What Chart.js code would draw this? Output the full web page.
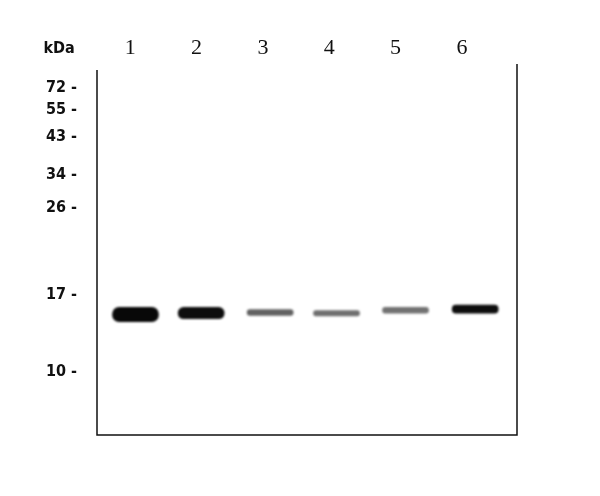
<!DOCTYPE html>
<html lang="en">
<head>
    <meta charset="UTF-8">
    <title>Western blot</title>
    <script src="https://cdn.jsdelivr.net/npm/chart.js"></script>
    <style>
        html, body { margin: 0; padding: 0; background: #fff; }
        .wrap { width: 600px; height: 496px; }
    </style>
</head>
<body>
    <div class="wrap"><canvas id="blot" width="600" height="496"></canvas></div>
    <script>
        // lanes and their label positions along the gel
        const lanes = ['1', '2', '3', '4', '5', '6'];
        const lanePos = [1, 2, 3, 4, 5, 6];
        // where each band actually sits (lane units) and its extent (migration, 0 = top of gel)
        const bandPos = [1.08, 2.07, 3.11, 4.11, 5.15, 6.20];
        const bandTop = [65.4, 65.4, 66.0, 66.3, 65.4, 64.8];
        const bandBottom = [69.3, 68.5, 67.6, 67.7, 67.0, 67.0];
        const bandIntensity = [1.0, 0.98, 0.62, 0.56, 0.55, 0.98];
        // molecular weight marker ladder
        const markerKDa = ['72', '55', '43', '34', '26', '17', '10'];
        const markerPos = [6.0, 11.9, 19.2, 29.5, 38.5, 62.1, 82.9];

        const bandData = bandPos.map((x, i) => ({ x: x, y: [bandTop[i], bandBottom[i]] }));
        const bandColors = bandIntensity.map(v => {
            const g = Math.round(235 * (1 - v) + 8);
            return `rgb(${g},${g},${g})`;
        });

        const markFont = "bold 16px 'Liberation Sans Narrow', 'DejaVu Sans Condensed', sans-serif";

        // frame on left, right and bottom + kDa heading
        const gelFrame = {
            id: 'gelFrame',
            beforeDatasetsDraw(chart) {
                chart.ctx.save();
                chart.ctx.filter = 'blur(1px)';
            },
            afterDatasetsDraw(chart) {
                chart.ctx.restore();
            },
            afterDraw(chart) {
                const { ctx, chartArea } = chart;
                ctx.save();
                ctx.strokeStyle = '#111';
                ctx.lineWidth = 1.5;
                ctx.beginPath();
                ctx.moveTo(chartArea.left, chartArea.top + 4);
                ctx.lineTo(chartArea.left, chartArea.bottom);
                ctx.lineTo(chartArea.right, chartArea.bottom);
                ctx.lineTo(chartArea.right, chartArea.top - 2);
                ctx.stroke();
                ctx.fillStyle = '#111';
                ctx.font = markFont;
                ctx.textAlign = 'center';
                ctx.textBaseline = 'middle';
                ctx.fillText('kDa', 59, 49);
                ctx.restore();
            }
        };

        new Chart(document.getElementById('blot'), {
            type: 'bar',
            data: {
                datasets: [{
                    label: 'band',
                    data: bandData,
                    backgroundColor: bandColors,
                    borderWidth: 0,
                    borderRadius: 7,
                    borderSkipped: false,
                    barThickness: 46
                }]
            },
            options: {
                responsive: false,
                animation: false,
                layout: { padding: { left: 0, top: 0, right: 83, bottom: 61 } },
                plugins: {
                    legend: { display: false },
                    tooltip: { enabled: false }
                },
                scales: {
                    x: {
                        type: 'linear',
                        position: 'top',
                        offset: false,
                        min: 0.5,
                        max: 6.83,
                        grid: { display: false, drawTicks: false, offset: false },
                        border: { display: false },
                        afterBuildTicks: scale => { scale.ticks = lanePos.map(v => ({ value: v })); },
                        afterFit: scale => { scale.height = 66; },
                        ticks: {
                            padding: 5,
                            color: '#111',
                            font: { family: "'Liberation Serif', 'DejaVu Serif', serif", size: 22 },
                            callback: (v, i) => lanes[i]
                        }
                    },
                    y: {
                        type: 'linear',
                        reverse: true,
                        min: 0,
                        max: 100,
                        grid: { display: false, drawTicks: false },
                        border: { display: false },
                        afterBuildTicks: scale => { scale.ticks = markerPos.map(v => ({ value: v })); },
                        afterFit: scale => { scale.width = 97; },
                        ticks: {
                            padding: 20,
                            color: '#111',
                            font: { family: "'Liberation Sans Narrow', 'DejaVu Sans Condensed', sans-serif", size: 16, weight: 'bold' },
                            callback: (v, i) => markerKDa[i] + ' -'
                        }
                    }
                }
            },
            plugins: [gelFrame]
        });
    </script>
</body>
</html>
